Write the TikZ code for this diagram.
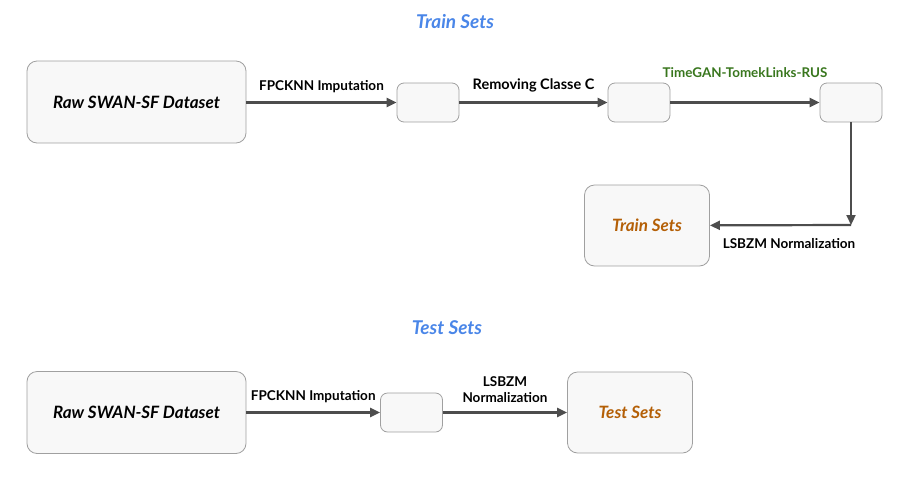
\documentclass[tikz,border=0pt]{standalone}
\usepackage{fontspec}
\setmainfont{Lato}
\usetikzlibrary{arrows.meta}
\definecolor{titleblue}{HTML}{4A86E8}
\definecolor{setorange}{HTML}{B45F06}
\definecolor{algreen}{HTML}{38761D}
\definecolor{boxfill}{HTML}{F8F8F8}
\definecolor{boxline}{HTML}{A0A0A0}
\definecolor{arrowc}{HTML}{4D4D4D}
\begin{document}
\begin{tikzpicture}[x=1pt,y=-1pt,
  box/.style={draw=boxline,fill=boxfill,rounded corners=10pt,line width=0.8pt,inner sep=0pt},
  bigbox/.style={box,minimum width=219pt,minimum height=82pt,font=\fontsize{17}{20}\selectfont\bfseries\itshape},
  smallbox/.style={box,rounded corners=7pt,minimum width=62pt,minimum height=39pt},
  setbox/.style={box,minimum width=125pt,minimum height=81pt,text=setorange,font=\fontsize{17}{20}\selectfont\bfseries\itshape},
  title/.style={text=titleblue,font=\fontsize{19}{22}\selectfont\bfseries\itshape},
  lab/.style={font=\fontsize{13.5}{15.5}\selectfont\bfseries,inner sep=1pt},
  conn/.style={draw=arrowc,line width=2.2pt,-{Triangle[length=10pt,width=9pt]}}
]
\useasboundingbox (0,0) rectangle (905,480);
% Train
\node[title] (ttrain) at (455,22) {Train Sets};
\node[bigbox] (raw1) at (136.5,102) {Raw SWAN-SF Dataset};
\node[smallbox] (a1) at (428,102.5) {};
\node[smallbox] (a2) at (639,102.5) {};
\node[smallbox] (a3) at (851,102.5) {};
\node[setbox] (train) at (647,225.5) {Train Sets};
\coordinate (corner) at (851,225);
\draw[conn] (raw1.east |- a1) -- node[lab,above=8pt] (l1) {FPCKNN Imputation} (a1);
\draw[conn] (a1) -- node[lab,above=8pt,font=\fontsize{14.5}{17}\selectfont\bfseries] (l2) {Removing Classe C} (a2);
\draw[conn] (a2) -- node[lab,above=23pt,text=algreen,font=\fontsize{13.4}{15}\selectfont\bfseries] (l3) {TimeGAN-TomekLinks-RUS} (a3);
\draw[conn] (a3) -- (corner);
\draw[conn] (corner) -- (train);
\node[lab] (l4) at (789,244) {LSBZM Normalization};
% Test
\node[title] (ttest) at (447,328) {Test Sets};
\node[bigbox] (raw2) at (136.5,412.5) {Raw SWAN-SF Dataset};
\node[smallbox] (b1) at (411.5,412.5) {};
\node[setbox] (test) at (630,412.5) {Test Sets};
\draw[conn] (raw2) -- node[lab,above=8pt] (l5) {FPCKNN Imputation} (b1);
\draw[conn] (b1) -- node[lab,above=8pt,align=center] (l6) {LSBZM\\Normalization} (test);
\end{tikzpicture}
\end{document}
